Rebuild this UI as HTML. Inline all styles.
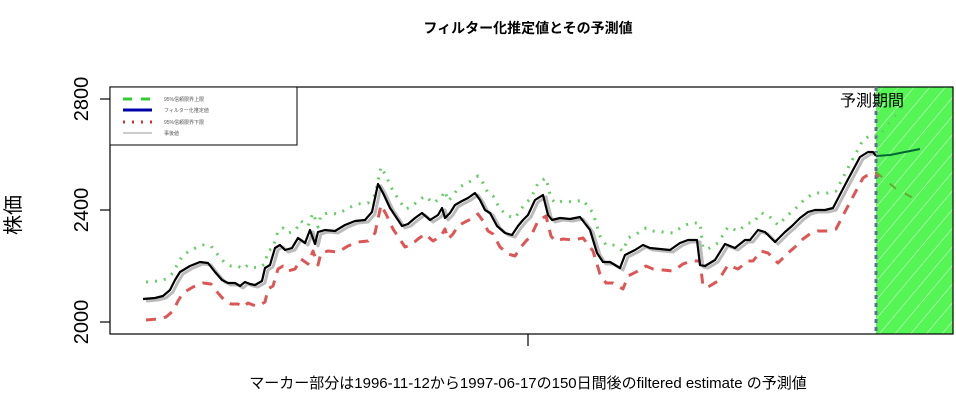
<!DOCTYPE html><html><head><meta charset="utf-8"><style>body{margin:0;background:#fff}svg{display:block}text{font-family:"Liberation Sans","Noto Sans CJK JP",sans-serif}</style></head><body>
<svg width="956" height="404" xmlns="http://www.w3.org/2000/svg">
<defs><pattern id="h" width="12" height="12" patternUnits="userSpaceOnUse" patternTransform="rotate(-50)"><rect width="12" height="12" fill="#55f555"/><line x1="0" y1="0" x2="12" y2="0" stroke="#e8ffe8" stroke-width="1"/></pattern>
<polyline id="d" points="143,299 155,298 163,296 170,290 175,280 180,272 190,266 200,262 208,263 215,272 222,280 228,283 235,283 240,286 245,282 250,284 255,285 262,281 265,268 270,265 275,248 280,245 285,250 292,248 298,238 305,243 310,230 315,244 318,232 325,230 335,231 345,225 355,221 365,220 372,212 378,184 383,193 390,208 398,220 402,226 408,224 415,218 422,213 430,220 438,215 442,208 445,218 450,213 455,205 462,201 468,198 475,193 480,200 485,210 490,213 497,226 505,233 512,235 518,226 523,220 528,215 535,200 543,195 548,215 552,220 560,218 570,219 580,217 590,230 597,253 603,262 610,262 620,268 625,255 635,250 643,245 650,248 660,249 670,250 680,243 688,240 697,240 700,265 705,266 715,260 725,244 735,248 745,240 750,240 758,230 765,232 775,242 785,232 792,226 800,218 808,212 815,210 825,210 833,208 845,185 853,170 860,157 868,152 873,152 876,156"/></defs>
<text x="528" y="33" font-size="14" font-weight="bold" text-anchor="middle">フィルター化推定値とその予測値</text>
<rect x="876" y="87" width="77" height="247" fill="url(#h)"/>
<rect x="110" y="87" width="843" height="247" fill="none" stroke="#000" stroke-width="1.2"/>
<line x1="876" y1="87" x2="876" y2="334" stroke="#607090" stroke-width="3" stroke-dasharray="4,4"/>
<g stroke="#000" stroke-width="1.2"><line x1="100" y1="322" x2="110" y2="322"/><line x1="100" y1="210" x2="110" y2="210"/><line x1="100" y1="99" x2="110" y2="99"/><line x1="528" y1="334" x2="528" y2="346"/></g>
<g font-size="20" text-anchor="middle"><text transform="translate(88,322) rotate(-90)">2000</text><text transform="translate(88,210) rotate(-90)">2400</text><text transform="translate(88,99) rotate(-90)">2800</text><text transform="translate(20,215) rotate(-90)">株価</text></g>
<text x="528" y="388" font-size="15" text-anchor="middle">マーカー部分は1996-11-12から1997-06-17の150日間後のfiltered estimate の予測値</text>
<text x="872" y="106" font-size="16" text-anchor="middle">予測期間</text>
<g fill="none" stroke-linejoin="round">
<use href="#d" stroke="#6c6" stroke-width="3" stroke-dasharray="2,7" transform="translate(3,-17)"/>
<use href="#d" stroke="#d55" stroke-width="3" stroke-dasharray="10,8" transform="translate(3,21)"/>
<use href="#d" stroke="#bbb" stroke-width="3" transform="translate(3,2)"/>
<use href="#d" stroke="#000" stroke-width="2.2"/>
<polyline stroke="#063" stroke-width="2" points="876,156 890,155 905,152 920,149"/>
<polyline stroke="#6a3" stroke-width="2" stroke-dasharray="8,10" points="876,172 895,188 913,198"/>
<polyline stroke="#6c6" stroke-width="2" stroke-dasharray="2,8" points="876,140 893,118 905,105"/>
</g>
<rect x="110" y="87" width="187" height="58" fill="#fff" stroke="#000" stroke-width="1"/>
<g stroke-width="3"><line x1="123" y1="99" x2="152" y2="99" stroke="#3c3" stroke-dasharray="9,9"/><line x1="123" y1="110" x2="152" y2="110" stroke="#00a"/><line x1="123" y1="122" x2="152" y2="122" stroke="#c33" stroke-dasharray="2,7"/><line x1="123" y1="133" x2="152" y2="133" stroke="#bbb" stroke-width="1.5"/></g>
<g font-size="5" fill="#555"><text x="164" y="101">95%信頼限界上限</text><text x="164" y="112">フィルター化推定値</text><text x="164" y="124">95%信頼限界下限</text><text x="164" y="135">事後値</text></g>
</svg></body></html>
